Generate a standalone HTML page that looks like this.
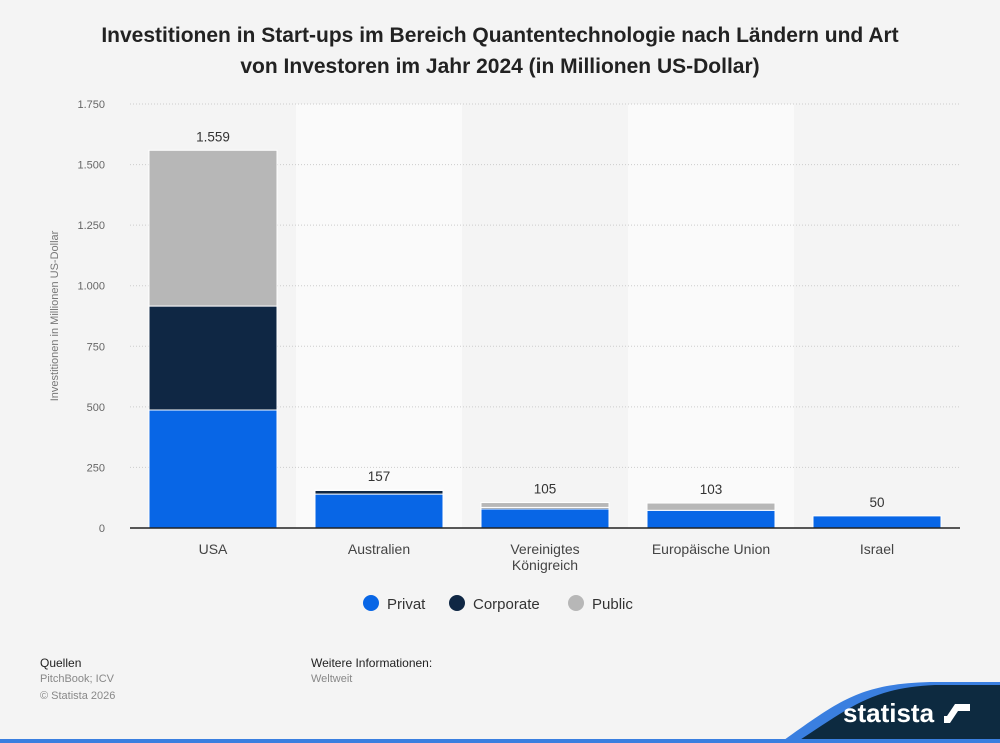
<!DOCTYPE html>
<html><head><meta charset="utf-8"><style>
body{margin:0;width:1000px;height:743px;background:#f4f4f4;font-family:"Liberation Sans",sans-serif;overflow:hidden;position:relative}
.t{position:absolute;left:0;width:1000px;text-align:center;top:20px;font-size:21px;font-weight:bold;color:#222;line-height:31px}
.s{position:absolute;font-size:11px;color:#888}
</style></head><body>
<div class="t">Investitionen in Start-ups im Bereich Quantentechnologie nach Ländern und Art<br>von Investoren im Jahr 2024 (in Millionen US-Dollar)</div>
<svg id="c" width="1000" height="743" style="position:absolute;left:0;top:0"></svg>
<div class="s" style="left:40px;top:656px;color:#222;font-size:12px">Quellen</div>
<div class="s" style="left:40px;top:673px">PitchBook; ICV</div>
<div class="s" style="left:40px;top:690px">© Statista 2026</div>
<div class="s" style="left:311px;top:656px;color:#222;font-size:12px">Weitere Informationen:</div>
<div class="s" style="left:311px;top:673px">Weltweit</div>
<svg width="1000" height="743" style="position:absolute;left:0;top:0;pointer-events:none">
<path d="M780,743 C840,700 860,684 930,682 L1000,682 L1000,743Z" fill="#3a7fe0"/>
<path d="M795,743 C850,708 870,688 935,685 L1000,685 L1000,743Z" fill="#0d2a40"/>
<rect x="0" y="739" width="1000" height="4" fill="#3a7fe0"/>
<text x="843" y="722" font-size="26" font-weight="bold" fill="#fff" font-family="Liberation Sans,sans-serif">statista</text>
<path d="M944,704 h26 v7 h-12 l-8,12 h-6 v-7 h3 l8,-12 z" fill="#fff"/>
</svg>
<script>
const categories=["USA","Australien","Vereinigtes Königreich","Europäische Union","Israel"];
const privat=[487,140,79,73,50];
const corporate=[429,15,6,0,0];
const pub=[643,2,20,30,0];
const totals=["1.559","157","105","103","50"];
const ticks=[0,250,500,750,1000,1250,1500,1750];
const tickLabels=["0","250","500","750","1.000","1.250","1.500","1.750"];
const NS="http://www.w3.org/2000/svg",svg=document.getElementById('c');
const x0=130,x1=960,y0=528,y1=104,max=1750;
const bw=(x1-x0)/categories.length;
const Y=v=>y0-(v/max)*(y0-y1);
function el(t,a,txt){const e=document.createElementNS(NS,t);for(const k in a)e.setAttribute(k,a[k]);if(txt!=null)e.textContent=txt;svg.appendChild(e);return e;}
categories.forEach((c,i)=>{if(i%2==1){const b=el('rect',{x:x0+i*bw,y:y1,width:bw,height:y0-y1,fill:'#fafafa'});

}});
ticks.forEach((t,i)=>{if(i>0){const l=el('line',{x1:x0,x2:x1,y1:Y(t),y2:Y(t),stroke:'#ccc','stroke-dasharray':'1,2'});

}
const tx=el('text',{x:105,y:Y(t)+4,'text-anchor':'end','font-size':11,fill:'#666'},tickLabels[i]);

});
const yt=el('text',{transform:'translate(58,316) rotate(-90)','text-anchor':'middle','font-size':11,fill:'#777'},'Investitionen in Millionen US-Dollar');


const series=[[privat,'#0866e6','privat'],[corporate,'#0f2744','corporate'],[pub,'#b7b7b7','public']];
categories.forEach((c,i)=>{let acc=0;const bx=x0+i*bw+(bw-128)/2;
series.forEach(([arr,col,n])=>{const v=arr[i];if(v>0){const r=el('rect',{x:bx,y:Y(acc+v),width:128,height:Y(acc)-Y(acc+v),fill:col,stroke:'#fff','stroke-width':1});

}acc+=v;});
const vl=el('text',{x:bx+64,y:Y(acc)-9,'text-anchor':'middle','font-size':13.5,fill:'#333'},totals[i]);


const words=c==="Vereinigtes Königreich"?["Vereinigtes","Königreich"]:[c];
words.forEach((w,j)=>{const cl=el('text',{x:x0+i*bw+bw/2,y:554+j*16,'text-anchor':'middle','font-size':14,fill:'#444'},w);

});});
const ax=el('line',{x1:x0,x2:x1,y1:y0,y2:y0,stroke:'#222','stroke-width':1.5});


const leg=[['Privat','#0866e6',362],['Corporate','#0f2744',448],['Public','#b7b7b7',567]];
leg.forEach(([n,col,x])=>{const c=el('circle',{cx:x+9,cy:603,r:8,fill:col});


const t=el('text',{x:x+25,y:609,'font-size':15,fill:'#333'},n);

});
</script>
</body></html>
